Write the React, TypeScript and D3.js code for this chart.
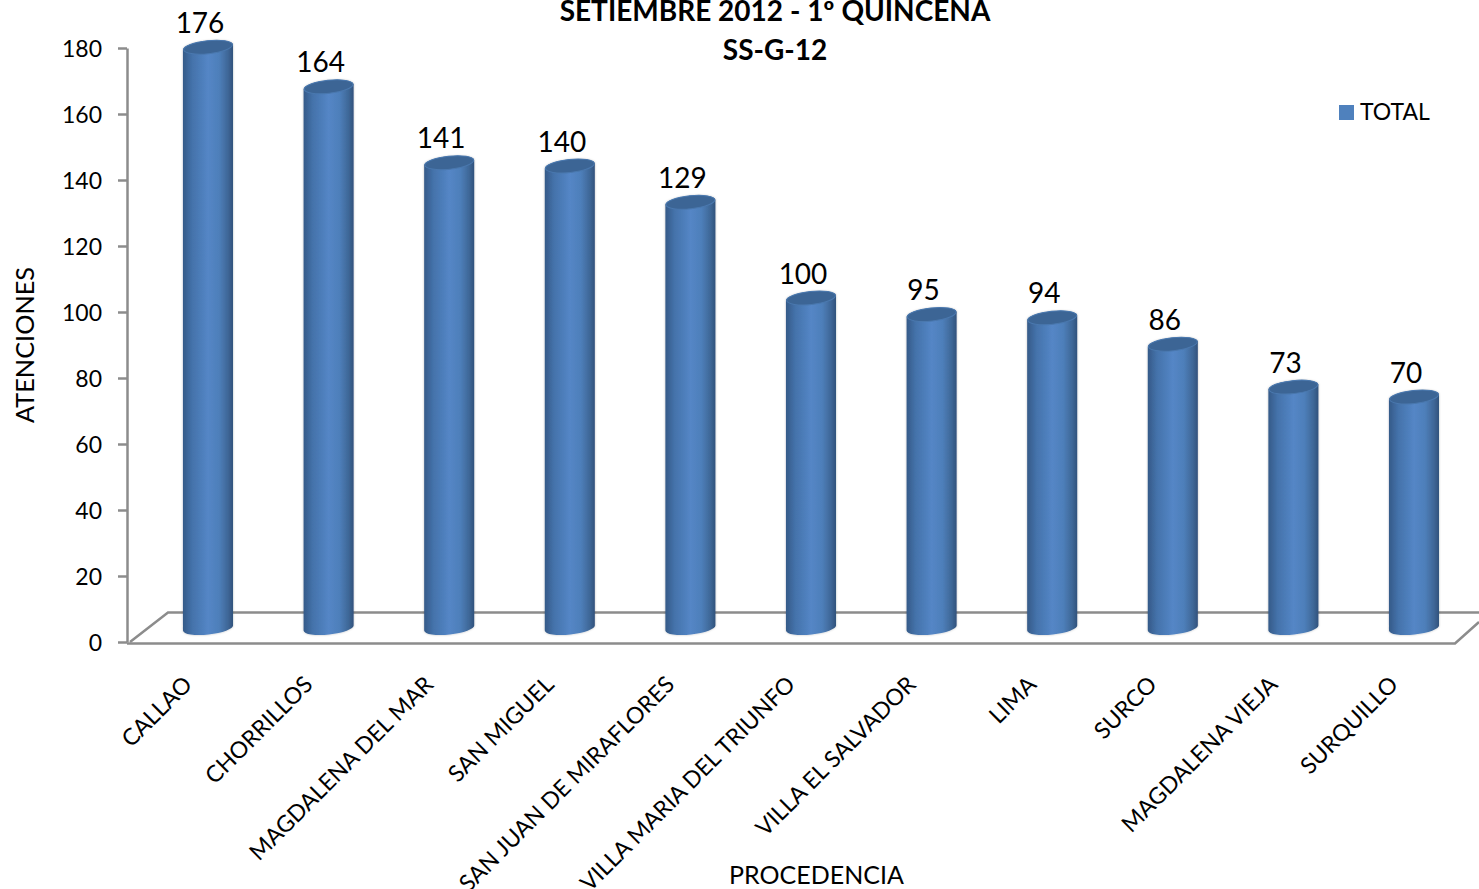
import { useEffect, useRef } from "react";
import * as d3 from "d3";

const categories = [
  "CALLAO",
  "CHORRILLOS",
  "MAGDALENA DEL MAR",
  "SAN MIGUEL",
  "SAN JUAN DE MIRAFLORES",
  "VILLA MARIA DEL TRIUNFO",
  "VILLA EL SALVADOR",
  "LIMA",
  "SURCO",
  "MAGDALENA VIEJA",
  "SURQUILLO",
];
const totals = [176, 164, 141, 140, 129, 100, 95, 94, 86, 73, 70];
const yTicks = [0, 20, 40, 60, 80, 100, 120, 140, 160, 180];
const titleLines = ["SETIEMBRE 2012 - 1º QUINCENA", "SS-G-12"];

const W = 1479;
const H = 889;
const FONT = "Lato, 'Open Sans', sans-serif";
const AXIS = "#8c8c8c";

export default function App() {
  const ref = useRef<SVGSVGElement>(null);

  useEffect(() => {
    if (!ref.current) return;
    const svg = d3.select(ref.current);
    svg.selectAll("*").remove();

    const x = d3
      .scaleBand<string>()
      .domain(categories)
      .range([147.7, 1474.3])
      .paddingInner(0.585)
      .paddingOuter(0.2925);
    const y = d3.scaleLinear().domain([0, 180]).range([642, 48]);
    const lift = 14; // bars stand on the floor, above the front edge

    // gradient of the cylinders
    const defs = svg.append("defs");
    const grad = defs
      .append("linearGradient")
      .attr("id", "cyl")
      .attr("x1", 0)
      .attr("x2", 1)
      .attr("y1", 0)
      .attr("y2", 0);
    [
      [0, "#355a88"],
      [0.18, "#4472aa"],
      [0.5, "#5486c6"],
      [0.72, "#4e7fba"],
      [0.9, "#3e6797"],
      [1, "#31527c"],
    ].forEach(([o, c]) => grad.append("stop").attr("offset", o as number).attr("stop-color", c as string));

    // soft halo round the bars
    defs
      .append("filter")
      .attr("id", "halo")
      .attr("x", "-20%")
      .attr("width", "140%")
      .append("feDropShadow")
      .attr("dx", 0)
      .attr("dy", 0)
      .attr("stdDeviation", 1.2)
      .attr("flood-color", "#000")
      .attr("flood-opacity", 0.25);

    // floor
    const floor = d3.line();
    const floorG = svg.append("g").attr("fill", "none").attr("stroke", AXIS).attr("stroke-width", 2.5);
    floorG.append("path").attr("d", floor([[130, 642], [168, 612.5], [W, 612.5]]));
    floorG.append("path").attr("d", floor([[127, 643.5], [1455, 643.5], [W, 622]]));

    // y axis
    const axis = svg
      .append("g")
      .attr("transform", "translate(127,0)")
      .call(d3.axisLeft(y).tickValues(yTicks).tickSize(9).tickSizeOuter(0).tickPadding(16));
    axis.select(".domain").attr("stroke", AXIS).attr("stroke-width", 2.5);
    axis.selectAll("line").attr("stroke", AXIS).attr("stroke-width", 2.5);
    axis
      .selectAll("text")
      .attr("font-family", FONT)
      .attr("font-size", 23)
      .attr("dy", "0.37em")
      .attr("fill", "#000");

    // bars
    const rx = x.bandwidth() / 2;
    const ry = 6.5;
    const rot = -6;
    const bars = svg.selectAll("g.bar").data(totals).enter().append("g").attr("class", "bar");
    bars
      .append("path")
      .attr("fill", "url(#cyl)")
      .attr("filter", "url(#halo)")
      .attr("d", (d, i) => {
        const cx = x(categories[i])! + rx;
        const top = y(d) - lift;
        const base = y(0) - lift;
        const dy = Math.sin((rot * Math.PI) / 180) * rx;
        return `M${cx - rx},${top - dy} L${cx - rx},${base - dy} A${rx},${ry} ${rot} 0 0 ${cx + rx},${base + dy} L${cx + rx},${top + dy} A${rx},${ry} ${rot} 0 0 ${cx - rx},${top - dy} Z`;
      });
    bars
      .append("ellipse")
      .attr("fill", "#3c6595")
      .attr("stroke", "#4a78ae")
      .attr("stroke-width", 1)
      .attr("rx", rx - 0.5)
      .attr("ry", ry)
      .attr("transform", (d, i) => `translate(${x(categories[i])! + rx},${y(d) - lift}) rotate(${rot})`);

    // value labels
    bars
      .append("text")
      .attr("x", (_, i) => x(categories[i])! + rx - 8)
      .attr("y", (d) => y(d) - lift - 14.5)
      .attr("text-anchor", "middle")
      .attr("font-family", FONT)
      .attr("font-size", 28)
      .text((d) => d);

    // category labels
    svg
      .selectAll("text.cat")
      .data(categories)
      .enter()
      .append("text")
      .attr("class", "cat")
      .attr("text-anchor", "end")
      .attr("font-family", FONT)
      .attr("font-size", 23)
      .attr("transform", (d) => `translate(${x(d)! + rx - 14.5},686) rotate(-45)`)
      .text((d) => d);

    // titles
    svg
      .selectAll("text.title")
      .data(titleLines)
      .enter()
      .append("text")
      .attr("class", "title")
      .attr("x", 775)
      .attr("y", (_, i) => 21 + i * 39)
      .attr("text-anchor", "middle")
      .attr("font-family", FONT)
      .attr("font-weight", 700)
      .attr("font-size", 28)
      .text((d) => d);

    svg
      .append("text")
      .attr("transform", "translate(34,345) rotate(-90)")
      .attr("text-anchor", "middle")
      .attr("font-family", FONT)
      .attr("font-size", 25.3)
      .text("ATENCIONES");
    svg
      .append("text")
      .attr("x", 816.5)
      .attr("y", 884)
      .attr("text-anchor", "middle")
      .attr("font-family", FONT)
      .attr("font-size", 25)
      .text("PROCEDENCIA");

    // legend
    svg.append("rect").attr("x", 1339).attr("y", 105).attr("width", 15).attr("height", 15).attr("fill", "#4f81bd");
    svg
      .append("text")
      .attr("x", 1360)
      .attr("y", 120)
      .attr("font-family", FONT)
      .attr("font-size", 23)
      .text("TOTAL");
  }, []);

  return (
    <svg
      ref={ref}
      width={W}
      height={H}
      style={{ position: "absolute", left: 0, top: 0, background: "#fff" }}
    />
  );
}
